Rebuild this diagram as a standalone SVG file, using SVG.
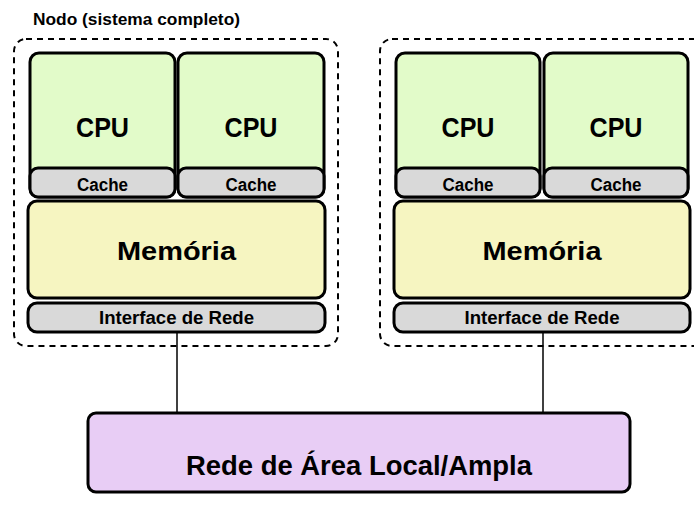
<svg xmlns="http://www.w3.org/2000/svg" width="694" height="506" viewBox="0 0 694 506">
  <style>
    text { font-family: "Liberation Sans", Arial, sans-serif; font-weight: bold; fill: #000; text-anchor: middle; }
    .node { fill: none; stroke: #000; stroke-width: 2; stroke-dasharray: 6 5; }
    .cpu { fill: #e2fbc9; stroke: #000; stroke-width: 3; }
    .cache { fill: #d9d9d9; stroke: #000; stroke-width: 3; }
    .mem { fill: #f6f5c1; stroke: #000; stroke-width: 3; }
    .nic { fill: #d9d9d9; stroke: #000; stroke-width: 3; }
    .net { fill: #e8cdf5; stroke: #000; stroke-width: 3; }
    .wire { stroke: #000; stroke-width: 1.5; fill: none; }
    .cpu-label { font-size: 28px; }
    .mem-label { font-size: 26px; }
    .net-label { font-size: 27px; }
    .cache-label { font-size: 18px; }
    .nic-label { font-size: 17.5px; }
  </style>

  <text x="33" y="25" style="font-size:17px;text-anchor:start" textLength="207" lengthAdjust="spacingAndGlyphs">Nodo (sistema completo)</text>

  <!-- connectors between network interfaces and the network -->
  <g id="connectors">
    <line class="wire" x1="177" y1="333" x2="177" y2="413"/>
    <line class="wire" x1="543" y1="333" x2="543" y2="413"/>
  </g>

  <!-- first node -->
  <g id="node1">
    <rect class="node" x="14" y="39" width="324" height="307" rx="12"/>
    <g id="node1-cpu1">
      <rect class="cpu" x="30" y="53" width="145" height="144" rx="9"/>
      <rect class="cache" x="30" y="168" width="145" height="29" rx="8"/>
      <text class="cpu-label" x="102.5" y="137" textLength="53" lengthAdjust="spacingAndGlyphs">CPU</text>
      <text class="cache-label" x="102.5" y="191" textLength="51" lengthAdjust="spacingAndGlyphs">Cache</text>
    </g>
    <g id="node1-cpu2">
      <rect class="cpu" x="178" y="53" width="146" height="144" rx="9"/>
      <rect class="cache" x="178" y="168" width="146" height="29" rx="8"/>
      <text class="cpu-label" x="251" y="137" textLength="53" lengthAdjust="spacingAndGlyphs">CPU</text>
      <text class="cache-label" x="251" y="191" textLength="51" lengthAdjust="spacingAndGlyphs">Cache</text>
    </g>
    <g id="node1-mem">
      <rect class="mem" x="28" y="201" width="297" height="97" rx="9"/>
      <text class="mem-label" x="176.5" y="260" textLength="119" lengthAdjust="spacingAndGlyphs">Memória</text>
    </g>
    <g id="node1-nic">
      <rect class="nic" x="28" y="303" width="297" height="29" rx="9"/>
      <text class="nic-label" x="176.5" y="324" textLength="155" lengthAdjust="spacingAndGlyphs">Interface de Rede</text>
    </g>
  </g>

  <!-- second node -->
  <g id="node2">
    <rect class="node" x="380" y="39" width="330" height="307" rx="12"/>
    <g id="node2-cpu1">
      <rect class="cpu" x="396" y="53" width="144" height="144" rx="9"/>
      <rect class="cache" x="396" y="168" width="144" height="29" rx="8"/>
      <text class="cpu-label" x="468" y="137" textLength="53" lengthAdjust="spacingAndGlyphs">CPU</text>
      <text class="cache-label" x="468" y="191" textLength="51" lengthAdjust="spacingAndGlyphs">Cache</text>
    </g>
    <g id="node2-cpu2">
      <rect class="cpu" x="544" y="53" width="144" height="144" rx="9"/>
      <rect class="cache" x="544" y="168" width="144" height="29" rx="8"/>
      <text class="cpu-label" x="616" y="137" textLength="53" lengthAdjust="spacingAndGlyphs">CPU</text>
      <text class="cache-label" x="616" y="191" textLength="51" lengthAdjust="spacingAndGlyphs">Cache</text>
    </g>
    <g id="node2-mem">
      <rect class="mem" x="394" y="201" width="296" height="97" rx="9"/>
      <text class="mem-label" x="542" y="260" textLength="119" lengthAdjust="spacingAndGlyphs">Memória</text>
    </g>
    <g id="node2-nic">
      <rect class="nic" x="394" y="303" width="296" height="29" rx="9"/>
      <text class="nic-label" x="542" y="324" textLength="155" lengthAdjust="spacingAndGlyphs">Interface de Rede</text>
    </g>
  </g>

  <!-- network -->
  <g id="network">
    <rect class="net" x="88" y="413" width="542" height="79" rx="8"/>
    <text class="net-label" x="359" y="475" textLength="346" lengthAdjust="spacingAndGlyphs">Rede de Área Local/Ampla</text>
  </g>
</svg>
